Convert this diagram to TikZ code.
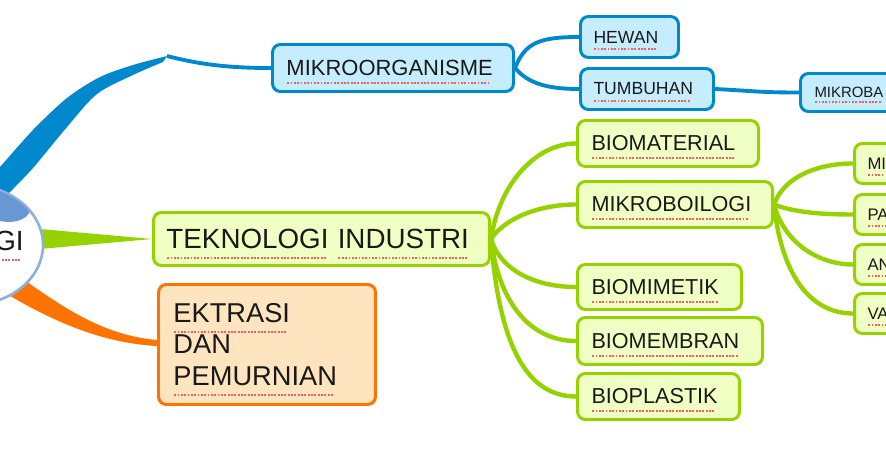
\documentclass[tikz,border=0pt]{standalone}
\usepackage{fontspec}
\setmainfont{Liberation Sans}
\usepackage{xcolor}
\usetikzlibrary{positioning,shapes.geometric}

\definecolor{bline}{RGB}{0,136,204}
\definecolor{bfill}{RGB}{197,237,253}
\definecolor{gline}{RGB}{150,210,0}
\definecolor{gfill}{RGB}{240,255,196}
\definecolor{oline}{RGB}{255,115,0}
\definecolor{ofill}{RGB}{255,228,192}
\definecolor{spellred}{RGB}{238,96,96}
\definecolor{blob}{RGB}{104,152,212}
\definecolor{rim}{RGB}{140,176,224}

% dotted spell-check underline
\newsavebox{\splbox}
\newcommand\spl[1]{\leavevmode\sbox\splbox{#1}\rlap{\raisebox{-0.38em}[0pt][0pt]{\color{spellred}\leaders\hbox to 1.9pt{\hss\rule{1.05pt}{1.05pt}\hss}\hskip\wd\splbox}}\usebox\splbox}

\begin{document}
\begin{tikzpicture}[x=0.2mm, y=-0.2mm,
  font=\fontsize{12.5pt}{15pt}\selectfont,
  box/.style={draw, rounded corners=4.5pt, line width=1.7pt, anchor=north west, inner ysep=0pt, align=left, text=black!90},
  bbox/.style={box, draw=bline, fill=bfill},
  gbox/.style={box, draw=gline, fill=gfill},
  obox/.style={box, draw=oline, fill=ofill},
  bsub/.style={bbox, inner xsep=0.26cm, minimum height=0.82cm, font=\fontsize{10pt}{12pt}\selectfont},
  gsub/.style={gbox, inner xsep=0.28cm, minimum height=0.92cm, font=\fontsize{12.3pt}{15pt}\selectfont},
  rsub/.style={gbox, inner xsep=0.26cm, minimum height=0.8cm, text width=1.2cm, font=\fontsize{9.5pt}{11pt}\selectfont},
  bl/.style={bline, line width=2.2pt},
  gl/.style={gline, line width=2.5pt}]
\useasboundingbox (0,0) rectangle (886,465);
\clip (0,0) rectangle (886,465);
% level 1 boxes
\node[gbox, text width=6.2cm, inner xsep=0.26cm, minimum height=1.06cm, font=\fontsize{15.8pt}{18pt}\selectfont] (tek) at (152,211) {\spl{TEKNOLOGI} \spl{INDUSTRI}};
\node[obox, text width=3.74cm, inner xsep=0.3cm, minimum height=2.4cm, font=\fontsize{15.5pt}{18pt}\selectfont] (ekt) at (157,283) {\spl{EKTRASI}\\DAN\\\spl{PEMURNIAN}};
\node[bbox, text width=4.26cm, inner xsep=0.28cm, minimum height=0.94cm] (mik) at (271,43) {\spl{MIKROORGANISME}};
% tapered main branches
\coordinate (kb) at (167,56);
\fill[bline] plot[smooth] coordinates {(-5,172) (0,167) (33,130) (67,98) (100,77) (133,65) (167,56)}
  -- plot[smooth] coordinates {(163,62) (133,75) (97,94) (67,127) (33,168) (10,192)} -- (-5,205) -- cycle;
\draw[bl] (kb) .. controls +(35,9) and +(-40,0) .. (mik.west);
\fill[gline] (40,229) -- (tek.west) -- (40,249) -- cycle;
\fill[oline] (10,270) .. controls (60,305) and (100,335) .. (157,340) -- (157,346) .. controls (100,343) and (50,320) .. (0,290) -- cycle;
% central topic
\node[ellipse, draw=rim, line width=1.5pt, fill=white, minimum width=2.92cm, minimum height=2.4cm] (root) at (-30,245) {};
\begin{scope}
\clip (-30,245) ellipse [x radius=72, y radius=59];
\fill[blob, rotate around={-15:(2,203)}] (2,203) ellipse [x radius=29, y radius=18];
\end{scope}
\node[anchor=base east, inner sep=0pt, font=\fontsize{15.8pt}{18pt}\selectfont, text=black!90] (gi) at (24,250) {\spl{GI}};
% microorganism branch
\node[bsub, text width=1.44cm] (hew) at (579,15) {\spl{HEWAN}};
\node[bsub, text width=2.14cm] (tum) at (579,67) {\spl{TUMBUHAN}};
\node[bbox, text width=1.64cm, inner xsep=0.28cm, minimum height=0.76cm, font=\fontsize{8.5pt}{10pt}\selectfont] (mba) at (799,72) {\spl{MIKROBA}};
\draw[bl] (mik.east) .. controls +(10,-25) and +(-40,0) .. (hew.west);
\draw[bl] (mik.east) .. controls +(12,14) and +(-35,0) .. (tum.west);
\draw[bl] (tum.east) .. controls +(40,2) and +(-40,0) .. (mba.west);
% industry branch
\node[gsub, text width=3.06cm] (bmat) at (576,119) {\spl{BIOMATERIAL}};
\node[gsub, text width=3.34cm] (mbio) at (576,180) {\spl{MIKROBOILOGI}};
\node[gsub, text width=2.72cm, minimum height=0.9cm] (bmim) at (576,263) {\spl{BIOMIMETIK}};
\node[gsub, text width=3.14cm, minimum height=0.94cm] (bmem) at (576,316) {\spl{BIOMEMBRAN}};
\node[gsub, text width=2.68cm] (bpla) at (576,372) {\spl{BIOPLASTIK}};
\draw[gl] (tek.east) .. controls +(8,-55) and +(-40,0) .. (bmat.west);
\draw[gl] (tek.east) .. controls +(15,-22) and +(-35,0) .. (mbio.west);
\draw[gl] (tek.east) .. controls +(10,32) and +(-40,0) .. (bmim.west);
\draw[gl] (tek.east) .. controls +(8,65) and +(-45,0) .. (bmem.west);
\draw[gl] (tek.east) .. controls +(8,105) and +(-50,0) .. (bpla.west);
% microbiology sub-branch (cut off at the right)
\node[rsub] (mi) at (853,142) {\spl{MI}};
\node[rsub] (pa) at (853,193) {\spl{PA}};
\node[rsub] (an) at (853,243) {\spl{AN}};
\node[rsub] (va) at (853,292) {\spl{VA}};
\draw[gl] (mbio.east) .. controls +(10,-28) and +(-35,0) .. (mi.west);
\draw[gl] (mbio.east) .. controls +(20,8) and +(-30,0) .. (pa.west);
\draw[gl] (mbio.east) .. controls +(10,38) and +(-35,0) .. (an.west);
\draw[gl] (mbio.east) .. controls +(8,75) and +(-40,0) .. (va.west);
\end{tikzpicture}
\end{document}
